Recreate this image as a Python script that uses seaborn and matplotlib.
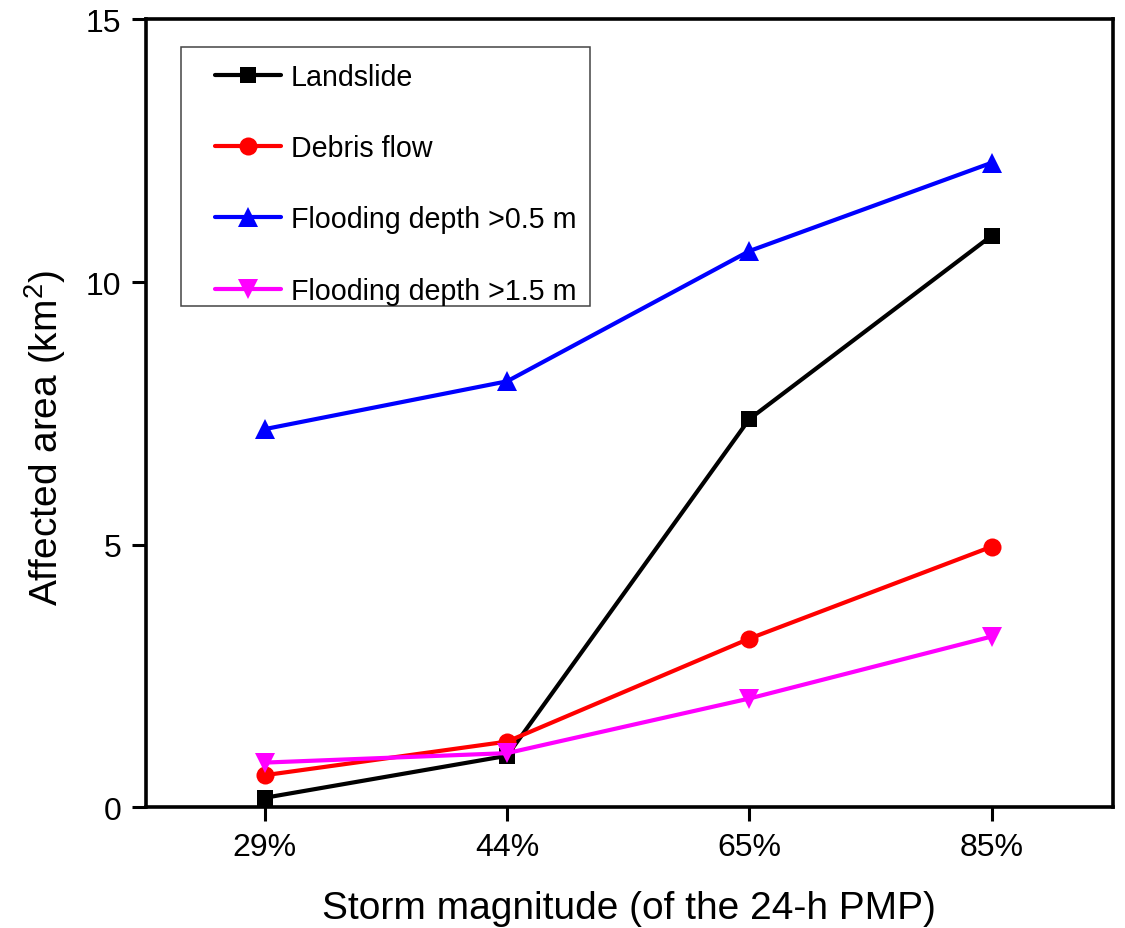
import matplotlib
matplotlib.use("Agg")
import matplotlib.pyplot as plt
from matplotlib.patches import Rectangle
import seaborn as sns
import pandas as pd

# Storm magnitude as a share of the 24-h PMP
categories = ["29%", "44%", "65%", "85%"]

# Affected area (km^2) for each hazard
landslide = [0.18, 0.98, 7.39, 10.88]
debris_flow = [0.61, 1.25, 3.21, 4.96]
flood_05 = [7.20, 8.11, 10.59, 12.27]
flood_15 = [0.85, 1.03, 2.07, 3.25]

series_names = ["Landslide", "Debris flow", "Flooding depth >0.5 m", "Flooding depth >1.5 m"]
series_values = [landslide, debris_flow, flood_05, flood_15]
colors = ["#000000", "#ff0000", "#0000ff", "#ff00ff"]
markers = ["s", "o", "^", "v"]
marker_sizes = [11.5, 13, 14.5, 14.5]

sns.set_theme(style="white")
plt.rcParams["font.family"] = ["Liberation Sans", "DejaVu Sans"]
plt.rcParams["mathtext.fontset"] = "custom"
plt.rcParams["mathtext.rm"] = "Liberation Sans"
plt.rcParams["mathtext.it"] = "Liberation Sans:italic"
plt.rcParams["mathtext.bf"] = "Liberation Sans:bold"
for key in ["text.color", "axes.labelcolor", "xtick.color", "ytick.color"]:
    plt.rcParams[key] = "black"

rows = []
for name, vals in zip(series_names, series_values):
    for i, (cat, v) in enumerate(zip(categories, vals)):
        rows.append({"series": name, "pos": i, "magnitude": cat, "area": v})
df = pd.DataFrame(rows)

fig = plt.figure(figsize=(11.25, 9.29), dpi=100)
ax = fig.add_axes([0.130, 0.130, 0.859, 0.848])

for name, c, m, ms in zip(series_names, colors, markers, marker_sizes):
    sub = df[df["series"] == name]
    sns.lineplot(data=sub, x="pos", y="area", ax=ax, color=c, marker=m,
                 markersize=ms, markeredgewidth=0, linewidth=3.0,
                 label=name, estimator=None, sort=False)

ax.set_xlim(-0.49, 3.5)
ax.set_ylim(0, 15)
ax.set_xticks(range(len(categories)))
ax.set_xticklabels(categories)
ax.set_yticks([0, 5, 10, 15])

for side in ["left", "right", "top", "bottom"]:
    ax.spines[side].set_visible(True)
    ax.spines[side].set_color("black")
    ax.spines[side].set_linewidth(2.6)

ax.tick_params(axis="both", which="major", direction="out", length=10,
               width=2.2, color="black", labelcolor="black", labelsize=23,
               pad=8, bottom=True, left=True, top=False, right=False)

ax.set_xlabel("Storm magnitude (of the 24-h PMP)", fontsize=28, labelpad=20)
ax.set_ylabel("Affected area (km$^2$)", fontsize=28)
ax.yaxis.set_label_coords(-0.081, 0.47)

# Legend entries without their own frame; a plain box is drawn around them
leg = ax.legend(loc="upper left", bbox_to_anchor=(0.0714, 0.9447),
                borderaxespad=0, fontsize=20.6, frameon=False,
                borderpad=0, labelspacing=1.51, handlelength=2.3,
                handletextpad=0.35)
for line in leg.get_lines():
    line.set_linewidth(3.0)
ax.add_patch(Rectangle((0.0362, 0.6367), 0.4228, 0.3279, transform=ax.transAxes,
                       facecolor="none", edgecolor="#444444", linewidth=1.1,
                       zorder=1))

fig.savefig("out.png", dpi=100, facecolor="white")
